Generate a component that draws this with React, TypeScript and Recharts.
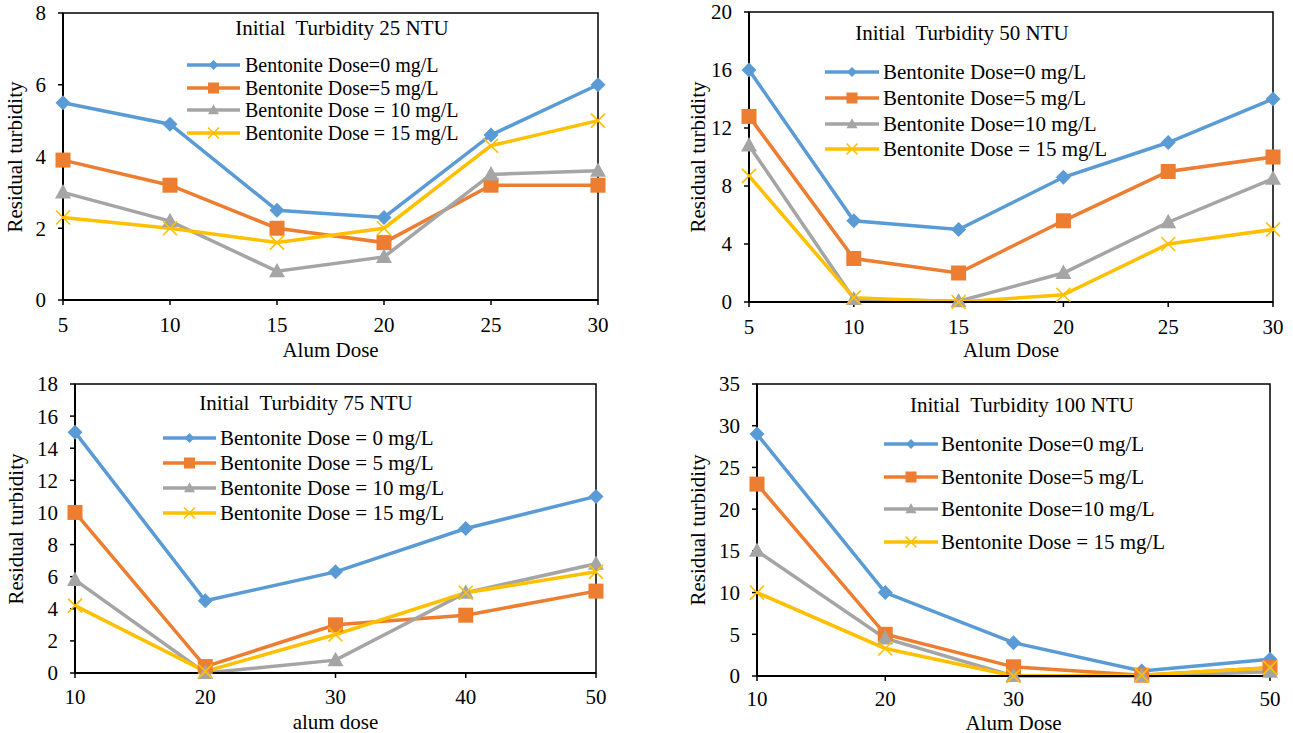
import React from 'react';
import { LineChart, Line, XAxis, YAxis, ReferenceArea, Legend } from 'recharts';

// ---------- DATA ----------
const P1_X = [5, 10, 15, 20, 25, 30];
const P1_B0 = [5.5, 4.9, 2.5, 2.3, 4.6, 6.0];
const P1_B5 = [3.9, 3.2, 2.0, 1.6, 3.2, 3.2];
const P1_B10 = [3.0, 2.2, 0.8, 1.2, 3.5, 3.6];
const P1_B15 = [2.3, 2.0, 1.6, 2.0, 4.3, 5.0];
const P1_YTICKS = [0, 2, 4, 6, 8];
const P1_NAMES = ['Bentonite Dose=0 mg/L', 'Bentonite Dose=5 mg/L', 'Bentonite Dose = 10 mg/L', 'Bentonite Dose = 15 mg/L'];
const P1_TITLE = 'Initial  Turbidity 25 NTU';
const P1_XLABEL = 'Alum Dose';

const P2_X = [5, 10, 15, 20, 25, 30];
const P2_B0 = [16, 5.6, 5.0, 8.6, 11, 14];
const P2_B5 = [12.8, 3.0, 2.0, 5.6, 9.0, 10];
const P2_B10 = [10.8, 0.2, 0.05, 2.0, 5.5, 8.5];
const P2_B15 = [8.7, 0.3, 0, 0.5, 4.0, 5.0];
const P2_YTICKS = [0, 4, 8, 12, 16, 20];
const P2_NAMES = ['Bentonite Dose=0 mg/L', 'Bentonite Dose=5 mg/L', 'Bentonite Dose=10 mg/L', 'Bentonite Dose = 15 mg/L'];
const P2_TITLE = 'Initial  Turbidity 50 NTU';
const P2_XLABEL = 'Alum Dose';

const P3_X = [10, 20, 30, 40, 50];
const P3_B0 = [15, 4.5, 6.3, 9.0, 11.0];
const P3_B5 = [10, 0.4, 3.0, 3.6, 5.1];
const P3_B10 = [5.8, 0, 0.8, 5.0, 6.8];
const P3_B15 = [4.2, 0.1, 2.4, 5.0, 6.3];
const P3_YTICKS = [0, 2, 4, 6, 8, 10, 12, 14, 16, 18];
const P3_NAMES = ['Bentonite Dose = 0 mg/L', 'Bentonite Dose = 5 mg/L', 'Bentonite Dose = 10 mg/L', 'Bentonite Dose = 15 mg/L'];
const P3_TITLE = 'Initial  Turbidity 75 NTU';
const P3_XLABEL = 'alum dose';

const P4_X = [10, 20, 30, 40, 50];
const P4_B0 = [29, 10, 4, 0.6, 2.0];
const P4_B5 = [23, 5, 1.1, 0.1, 1.0];
const P4_B10 = [15, 4.5, 0, 0, 0.5];
const P4_B15 = [10, 3.3, 0, 0.1, 1.0];
const P4_YTICKS = [0, 5, 10, 15, 20, 25, 30, 35];
const P4_NAMES = ['Bentonite Dose=0 mg/L', 'Bentonite Dose=5 mg/L', 'Bentonite Dose=10 mg/L', 'Bentonite Dose = 15 mg/L'];
const P4_TITLE = 'Initial  Turbidity 100 NTU';
const P4_XLABEL = 'Alum Dose';

const Y_LABEL = 'Residual turbidity';

// ---------- STYLE ----------
const COLORS = ['#5B9BD5', '#ED7D31', '#A5A5A5', '#FFC000'];
const SHAPES = ['diamond', 'square', 'triangle', 'x'];
const DOT_SIZES = [7.5, 7.5, 8, 7];
const LEG_SIZES = [5, 5.5, 5.5, 5.5];
const FONT = '"Liberation Serif", "Times New Roman", serif';

function markerEl(shape: string, color: string, cx: number, cy: number, s: number, key?: string) {
  if (cx == null || cy == null || isNaN(cx) || isNaN(cy)) return <g key={key} />;
  switch (shape) {
    case 'diamond':
      return <path key={key} d={`M${cx},${cy - s} L${cx + s},${cy} L${cx},${cy + s} L${cx - s},${cy} Z`} fill={color} />;
    case 'square':
      return <rect key={key} x={cx - s} y={cy - s} width={2 * s} height={2 * s} fill={color} />;
    case 'triangle':
      return <path key={key} d={`M${cx},${cy - s * 1.05} L${cx + s},${cy + s * 0.75} L${cx - s},${cy + s * 0.75} Z`} fill={color} />;
    default:
      return (
        <path key={key} d={`M${cx - s},${cy - s} L${cx + s},${cy + s} M${cx - s},${cy + s} L${cx + s},${cy - s}`} stroke={color} strokeWidth={1.6} fill="none" />
      );
  }
}

type Cfg = {
  id: string;
  x: number[];
  series: number[][];
  yticks: number[];
  names: string[];
  title: string;
  xlabel: string;
  box: { left: number; top: number; w: number; h: number };
  plot: { l: number; t: number; r: number; b: number };
  titlePos: { x: number; y: number };
  leg: { x0: number; x1: number; tx: number; rows: number[]; font: number };
  yLabelX: number;
  xLabelY: number;
  xTickMargin: number;
};

const PANELS: Cfg[] = [
  {
    id: 'p1', x: P1_X, series: [P1_B0, P1_B5, P1_B10, P1_B15], yticks: P1_YTICKS, names: P1_NAMES, title: P1_TITLE, xlabel: P1_XLABEL,
    box: { left: 0, top: 0, w: 620, h: 366 }, plot: { l: 63, t: 13, r: 598, b: 300 },
    titlePos: { x: 342, y: 28 }, leg: { x0: 187, x1: 240, tx: 245, rows: [65, 87.5, 110, 132.5], font: 20 }, yLabelX: 15, xLabelY: 350, xTickMargin: 12,
  },
  {
    id: 'p2', x: P2_X, series: [P2_B0, P2_B5, P2_B10, P2_B15], yticks: P2_YTICKS, names: P2_NAMES, title: P2_TITLE, xlabel: P2_XLABEL,
    box: { left: 640, top: 0, w: 653, h: 366 }, plot: { l: 749, t: 12, r: 1273, b: 302 },
    titlePos: { x: 962, y: 33 }, leg: { x0: 825, x1: 879, tx: 883, rows: [72, 98, 124, 149], font: 21 }, yLabelX: 698, xLabelY: 350, xTickMargin: 12,
  },
  {
    id: 'p3', x: P3_X, series: [P3_B0, P3_B5, P3_B10, P3_B15], yticks: P3_YTICKS, names: P3_NAMES, title: P3_TITLE, xlabel: P3_XLABEL,
    box: { left: 0, top: 370, w: 620, h: 363 }, plot: { l: 75, t: 384, r: 596, b: 673 },
    titlePos: { x: 306, y: 403 }, leg: { x0: 163, x1: 216, tx: 220, rows: [438, 463, 488, 513], font: 21 }, yLabelX: 16, xLabelY: 722, xTickMargin: 11,
  },
  {
    id: 'p4', x: P4_X, series: [P4_B0, P4_B5, P4_B10, P4_B15], yticks: P4_YTICKS, names: P4_NAMES, title: P4_TITLE, xlabel: P4_XLABEL,
    box: { left: 640, top: 370, w: 653, h: 363 }, plot: { l: 757, t: 384, r: 1270, b: 676 },
    titlePos: { x: 1022, y: 405 }, leg: { x0: 884, x1: 938, tx: 941, rows: [444, 477, 509, 542], font: 21 }, yLabelX: 698, xLabelY: 723, xTickMargin: 10,
  },
];

function Overlay({ cfg }: { cfg: Cfg }) {
  const { box } = cfg;
  const lw = cfg.leg.x1 - cfg.leg.x0;
  return (
    <div style={{ position: 'relative', width: box.w, height: box.h, fontFamily: FONT, color: '#000' }}>
      <div
        style={{
          position: 'absolute', left: cfg.titlePos.x - box.left, top: cfg.titlePos.y - box.top,
          transform: 'translate(-50%, -50%)', fontSize: 21, whiteSpace: 'pre', lineHeight: 1, fontFamily: FONT,
        }}
      >
        {cfg.title}
      </div>
      {cfg.names.map((n, i) => (
        <div
          key={n + i}
          style={{
            position: 'absolute', left: cfg.leg.x0 - box.left, top: cfg.leg.rows[i] - box.top - 11, height: 22,
            display: 'flex', alignItems: 'center', whiteSpace: 'pre',
          }}
        >
          <svg width={cfg.leg.tx - cfg.leg.x0} height={22} style={{ display: 'block', flex: 'none' }}>
            <line x1={0} y1={11} x2={lw} y2={11} stroke={COLORS[i]} strokeWidth={3.5} />
            {markerEl(SHAPES[i], COLORS[i], lw / 2, 11, LEG_SIZES[i])}
          </svg>
          <span style={{ fontSize: cfg.leg.font, lineHeight: '22px', fontFamily: FONT }}>{n}</span>
        </div>
      ))}
      <div
        style={{
          position: 'absolute', left: cfg.yLabelX - box.left, top: (cfg.plot.t + cfg.plot.b) / 2 - box.top,
          transform: 'translate(-50%, -50%) rotate(-90deg)', fontSize: 21, whiteSpace: 'pre', lineHeight: 1, fontFamily: FONT,
        }}
      >
        {Y_LABEL}
      </div>
      <div
        style={{
          position: 'absolute', left: (cfg.plot.l + cfg.plot.r) / 2 - box.left, top: cfg.xLabelY - box.top,
          transform: 'translate(-50%, -50%)', fontSize: 21, whiteSpace: 'pre', lineHeight: 1, fontFamily: FONT,
        }}
      >
        {cfg.xlabel}
      </div>
    </div>
  );
}

function Panel({ cfg }: { cfg: Cfg }) {
  const { box, plot } = cfg;
  const YW = 60;
  const XH = 50;
  const margin = {
    top: plot.t - box.top,
    right: box.left + box.w - plot.r,
    left: plot.l - box.left - YW,
    bottom: box.top + box.h - plot.b - XH,
  };
  const data = cfg.x.map((xv, i) => ({
    x: xv,
    s0: cfg.series[0][i],
    s1: cfg.series[1][i],
    s2: cfg.series[2][i],
    s3: cfg.series[3][i],
  }));
  const xmin = cfg.x[0];
  const xmax = cfg.x[cfg.x.length - 1];
  const ymax = cfg.yticks[cfg.yticks.length - 1];
  const tickStyle = { fontSize: 21, fill: '#000', fontFamily: FONT };
  return (
    <div style={{ position: 'absolute', left: box.left, top: box.top, width: box.w, height: box.h, fontFamily: FONT }}>
      <LineChart width={box.w} height={box.h} data={data} margin={margin} style={{ fontFamily: FONT }}>
        <ReferenceArea x1={xmin} x2={xmax} y1={0} y2={ymax} fill="none" stroke="#000" strokeWidth={1.5} ifOverflow="visible" />
        <XAxis
          dataKey="x" type="number" domain={[xmin, xmax]} ticks={cfg.x} interval={0} height={XH}
          tick={tickStyle} tickSize={5} tickMargin={cfg.xTickMargin}
          axisLine={{ stroke: '#000', strokeWidth: 2 }} tickLine={{ stroke: '#000', strokeWidth: 1.5 }}
        />
        <YAxis
          type="number" domain={[0, ymax]} ticks={cfg.yticks} interval={0} width={YW}
          tick={tickStyle} tickSize={5} tickMargin={12}
          axisLine={{ stroke: '#000', strokeWidth: 2 }} tickLine={{ stroke: '#000', strokeWidth: 1.5 }}
        />
        {[0, 1, 2, 3].map((k) => (
          <Line
            key={`s${k}`}
            dataKey={`s${k}`}
            name={cfg.names[k]}
            stroke={COLORS[k]}
            strokeWidth={3.5}
            isAnimationActive={false}
            dot={(p: any) => markerEl(SHAPES[k], COLORS[k], p.cx, p.cy, DOT_SIZES[k], `${cfg.id}-d${k}-${p.index}`)}
            activeDot={false}
          />
        ))}
        <Legend
          layout="vertical" align="center" verticalAlign="middle"
          wrapperStyle={{ left: 0, top: 0, width: box.w, height: box.h, pointerEvents: 'none' }}
          content={() => <Overlay cfg={cfg} />}
        />
      </LineChart>
    </div>
  );
}

export default function App() {
  return (
    <div style={{ position: 'absolute', left: 0, top: 0, width: 1293, height: 733, background: '#fff' }}>
      {PANELS.map((c) => (
        <Panel key={c.id} cfg={c} />
      ))}
    </div>
  );
}
